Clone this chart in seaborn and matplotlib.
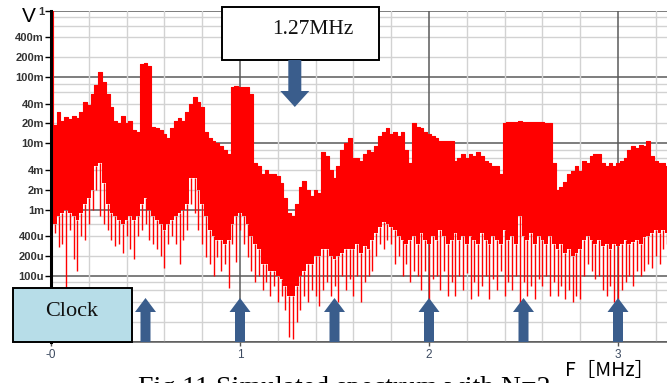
import numpy as np
import matplotlib
matplotlib.use("Agg")
import matplotlib.pyplot as plt
from matplotlib.patches import Polygon, Rectangle
from matplotlib.transforms import IdentityTransform
import seaborn as sns

# Spectrum sampled every 0.02 MHz, amplitudes in mV
freq_step_mhz = 0.02

upper_mv = [
    1000, 19, 30, 22, 25, 23, 26, 24, 30, 42,
    38, 55, 75, 120, 85, 55, 35, 22, 20, 26,
    20, 22, 16, 15, 160, 165, 150, 18, 17, 16,
    14, 12, 17, 22, 24, 22, 30, 40, 50, 42,
    35, 15, 12, 11, 10, 9, 8, 7, 70, 73,
    72, 72, 70, 55, 5, 4.5, 3.5, 4, 3.5, 3.5,
    3.2, 2.5, 1.5, 0.9, 0.8, 1.2, 2.2, 2.7, 2.0, 1.6,
    2.0, 1.8, 7.5, 6.5, 4.0, 3.0, 4.5, 8, 10, 12,
    6, 6, 5.5, 7, 8, 7.5, 9, 13, 15, 17,
    14, 15, 13, 15, 8, 5, 20, 18, 17, 15,
    14, 13, 12, 11, 11, 11, 11, 5.5, 6, 7,
    6, 7, 6.5, 7.5, 6.5, 5.5, 5, 4.5, 4.5, 3.5,
    20, 21, 21, 21, 22, 21, 21, 21, 21, 21,
    21, 20, 20, 5, 2.0, 2.2, 2.6, 3.5, 3.8, 4.5,
    3.8, 5.5, 5, 6.5, 7, 7, 5, 4.5, 5, 4.5,
    5, 5.5, 6, 8, 9, 8.5, 9.5, 9, 11, 6.5,
    5.5, 5, 5, 4.5,
]

solid_low_mv = [
    0.6, 0.6, 0.8, 0.9, 1.0, 0.9, 0.8, 0.7, 0.9, 1.2,
    1.5, 2.0, 4.5, 5, 2.5, 1.2, 0.9, 0.8, 0.7, 0.6,
    0.7, 0.8, 0.7, 0.8, 1.2, 1.5, 1.0, 0.8, 0.7, 0.6,
    0.5, 0.6, 0.7, 0.8, 0.9, 1.0, 1.2, 3.0, 3.0, 2.0,
    1.2, 0.8, 0.5, 0.4, 0.35, 0.35, 0.3, 0.35, 0.6, 0.8,
    0.9, 0.8, 0.6, 0.4, 0.3, 0.25, 0.15, 0.15, 0.12, 0.12,
    0.1, 0.09, 0.07, 0.05, 0.05, 0.07, 0.1, 0.12, 0.15, 0.15,
    0.2, 0.2, 0.25, 0.25, 0.2, 0.18, 0.2, 0.22, 0.25, 0.25,
    0.25, 0.3, 0.22, 0.28, 0.25, 0.35, 0.45, 0.55, 0.65, 0.6,
    0.55, 0.5, 0.4, 0.35, 0.3, 0.35, 0.4, 0.3, 0.45, 0.35,
    0.3, 0.4, 0.35, 0.5, 0.4, 0.3, 0.35, 0.45, 0.35, 0.4,
    0.3, 0.4, 0.35, 0.3, 0.45, 0.35, 0.3, 0.4, 0.35, 0.3,
    0.5, 0.35, 0.4, 0.3, 0.8, 0.4, 0.35, 0.45, 0.3, 0.4,
    0.35, 0.3, 0.4, 0.3, 0.25, 0.3, 0.22, 0.25, 0.2, 0.22,
    0.25, 0.35, 0.4, 0.35, 0.3, 0.35, 0.28, 0.3, 0.25, 0.3,
    0.28, 0.3, 0.35, 0.3, 0.32, 0.35, 0.3, 0.38, 0.4, 0.45,
    0.5, 0.45, 0.5, 0.45,
]

spike_low_mv = [
    0.6, 0.45, 0.27, 0.3, 0.06, 0.5, 0.18, 0.12, 0.4, 0.35,
    0.6, 1.0, 2.0, 0.8, 0.6, 0.5, 0.35, 0.28, 0.3, 0.22,
    0.4, 0.25, 0.18, 0.4, 0.5, 0.6, 0.35, 0.3, 0.25, 0.2,
    0.13, 0.3, 0.4, 0.3, 0.15, 0.35, 0.5, 1.2, 0.9, 0.5,
    0.3, 0.19, 0.15, 0.1, 0.19, 0.12, 0.15, 0.065, 0.3, 0.16,
    0.5, 0.3, 0.19, 0.12, 0.08, 0.1, 0.06, 0.08, 0.05, 0.07,
    0.04, 0.05, 0.03, 0.012, 0.011, 0.02, 0.03, 0.05, 0.04, 0.06,
    0.05, 0.035, 0.06, 0.08, 0.05, 0.07, 0.04, 0.1, 0.06, 0.09,
    0.05, 0.1, 0.04, 0.08, 0.1, 0.12, 0.2, 0.3, 0.25, 0.35,
    0.3, 0.15, 0.2, 0.1, 0.15, 0.08, 0.12, 0.1, 0.06, 0.12,
    0.04, 0.09, 0.1, 0.06, 0.12, 0.05, 0.08, 0.05, 0.1, 0.06,
    0.11, 0.045, 0.08, 0.05, 0.07, 0.1, 0.045, 0.09, 0.06, 0.12,
    0.05, 0.08, 0.06, 0.1, 0.025, 0.08, 0.05, 0.07, 0.045, 0.09,
    0.07, 0.1, 0.05, 0.08, 0.05, 0.07, 0.045, 0.06, 0.04, 0.05,
    0.045, 0.1, 0.15, 0.12, 0.09, 0.1, 0.06, 0.05, 0.07, 0.04,
    0.03, 0.06, 0.08, 0.1, 0.07, 0.12, 0.1, 0.12, 0.15, 0.13,
    0.2, 0.15, 0.25, 0.3,
]

# Axis ticks and labels
y_tick_vals = [1, 0.4, 0.2, 0.1, 0.04, 0.02, 0.01, 0.004, 0.002, 0.001, 4e-4, 2e-4, 1e-4]
y_tick_labels = ["1", "400m", "200m", "100m", "40m", "20m", "10m", "4m", "2m", "1m",
                 "400u", "200u", "100u"]
x_tick_vals = [0, 1, 2, 3]
x_tick_labels = ["-0", "1", "2", "3"]

# Harmonic markers (MHz) and the highlighted frequency
clock_harmonics_mhz = [0.5, 1.0, 1.5, 2.0, 2.5, 3.0]
marker_freq_mhz = 1.29
marker_label = "1.27MHz"

RED = "#ff0000"
ARROW = "#3a5d8c"

sns.set_theme(style="white")
plt.rcParams["font.family"] = ["Liberation Sans", "DejaVu Sans"]

W, H = 667, 383
fig = plt.figure(figsize=(W / 100, H / 100), dpi=100)
fig.patch.set_facecolor("white")
ax = fig.add_axes([51 / W, 41 / H, (W - 51) / W, 331 / H])
ax.set_facecolor("white")

freq = np.round(np.arange(len(upper_mv)) * freq_step_mhz, 2)
upper = np.array(upper_mv) * 1e-3
solid_low = np.array(solid_low_mv) * 1e-3
spike_low = np.array(spike_low_mv) * 1e-3

ax.set_yscale("log")
ax.set_ylim(1e-5, 1)
ax.set_xlim(0, (W - 51) / 189)

# grid: decades dark, 2/4/6/8 light; integer MHz dark, 0.2 MHz light
for k in range(-5, 1):
    for m in (1, 2, 4, 6, 8):
        v = m * 10.0 ** k
        if v > 1.0001:
            continue
        major = m == 1
        ax.axhline(v, color="#5a5a5a" if major else "#d2d2d2",
                   lw=1.1 if major else 1.0, zorder=0.5)
for i in range(0, 17):
    xv = i * 0.2
    major = i % 5 == 0
    ax.axvline(xv, color="#5a5a5a" if major else "#d2d2d2",
               lw=1.1 if major else 1.0, zorder=0.5)

# spectrum
ax.fill_between(freq, solid_low, upper, step="mid", color=RED, lw=0, zorder=2)
ax.vlines(freq, spike_low, solid_low, color=RED, lw=1.0, zorder=2)
sns.lineplot(x=freq, y=upper, drawstyle="steps-mid", color=RED, lw=0.8,
             estimator=None, ax=ax, zorder=2)

# axes styling
for side in ("top", "right"):
    ax.spines[side].set_visible(False)
ax.spines["left"].set_color("black")
ax.spines["left"].set_linewidth(2.2)
ax.spines["bottom"].set_color("#5a5a5a")
ax.spines["bottom"].set_linewidth(1.1)
ax.set_yticks(y_tick_vals, y_tick_labels)
ax.yaxis.set_minor_locator(matplotlib.ticker.NullLocator())
ax.set_xticks(x_tick_vals, x_tick_labels)
ax.tick_params(axis="y", left=True, length=4, width=1, color="black", pad=1,
               labelsize=8, labelcolor="#333333")
for t in ax.get_yticklabels():
    t.set_fontweight("bold")
ax.tick_params(axis="x", bottom=True, length=3, width=1, color="#555555", pad=2,
               labelsize=8.5, labelcolor="#3c4a60")
ax.set_xlabel("")
ax.set_ylabel("")

fig.text(29 / W, 1 - 16 / H, "V", fontsize=15, color="black",
         ha="center", va="center", family=["Liberation Sans"])
fig.text(610 / W, 1 - 371 / H, "F［MHz］", fontsize=14, color="black",
         ha="center", va="center", family=["Noto Sans CJK JP", "DejaVu Sans"])
fig.text(138 / W, 1 - 376 / H, "Fig.11 Simulated spectrum with N=2", fontsize=20,
         color="black", ha="left", va="top", family=["Liberation Serif"])

fig.canvas.draw()


def px(fx, fy):
    return (fx, H - fy)


# annotation boxes (pixel coordinates from the top-left corner)
ident = IdentityTransform()
fig.add_artist(Rectangle(px(222, 60), 157, 53, transform=ident, facecolor="white",
                         edgecolor="black", lw=1.4, zorder=6))
fig.text(313 / W, 1 - 30 / H, marker_label, fontsize=15.5, ha="center", va="center",
         family=["Liberation Serif"], color="#111111", zorder=7)
fig.add_artist(Rectangle(px(13, 342), 119, 54, transform=ident, facecolor="#b7dde8",
                         edgecolor="black", lw=1.4, zorder=6))
fig.text(72 / W, 1 - 311 / H, "Clock", fontsize=16, ha="center", va="center",
         family=["Liberation Serif"], color="#111111", zorder=7)

# up arrows at clock harmonics
for f in clock_harmonics_mhz:
    cx = ax.transData.transform((f, 1e-3))[0]
    yb, yt = 41, H - 298
    hl, hw, sw = 14, 10.5, 5
    pts = [(cx - sw, yb), (cx + sw, yb), (cx + sw, yt - hl), (cx + hw, yt - hl),
           (cx, yt), (cx - hw, yt - hl), (cx - sw, yt - hl)]
    fig.add_artist(Polygon(pts, closed=True, transform=ident, facecolor=ARROW,
                           edgecolor="none", zorder=6))

# down arrow at the marked frequency
cx = ax.transData.transform((marker_freq_mhz, 1e-3))[0]
ytop, ytip = H - 60, H - 107
hl, hw, sw = 16, 14.5, 6.5
pts = [(cx - sw, ytop), (cx + sw, ytop), (cx + sw, ytip + hl), (cx + hw, ytip + hl),
       (cx, ytip), (cx - hw, ytip + hl), (cx - sw, ytip + hl)]
fig.add_artist(Polygon(pts, closed=True, transform=ident, facecolor=ARROW,
                       edgecolor="none", zorder=6))

fig.savefig("out.png", dpi=100, facecolor="white")
